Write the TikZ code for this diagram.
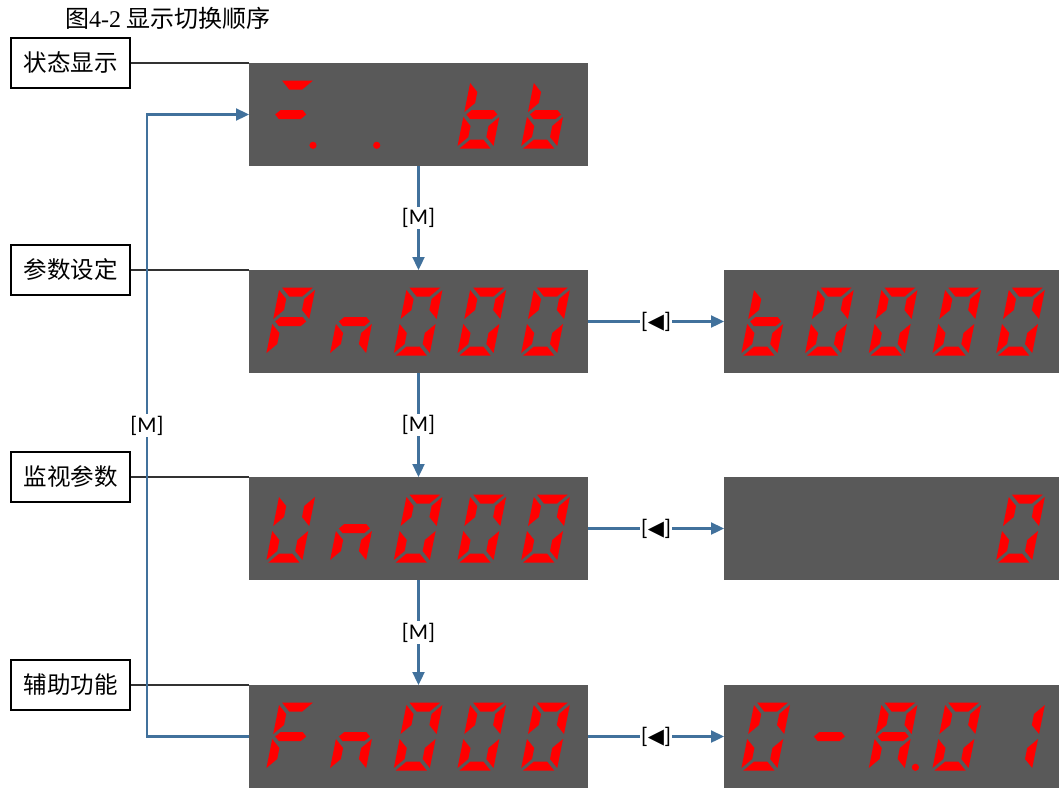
\documentclass[tikz,border=0pt]{standalone}
\usepackage{fontspec}
\setmainfont{Carlito}
\newfontfamily\cjk{Noto Sans CJK SC}
\newfontfamily\tms{Liberation Serif}
\newfontfamily\djv{DejaVu Sans}
\usetikzlibrary{arrows.meta}
\definecolor{segred}{RGB}{255,0,0}
\definecolor{panel}{RGB}{89,89,89}
\definecolor{flow}{RGB}{65,113,156}
\definecolor{guide}{RGB}{50,50,50}
% seven segment pieces, local coords (W=36,H=68,t=9,gap=2.5), y downward
\newcommand\sgA{\fill[segred] (2.5,0)--(33.5,0)--(24.5,9)--(11.5,9)--cycle;}
\newcommand\sgB{\fill[segred] (36,2.5)--(36,31.5)--(27,22.5)--(27,11.5)--cycle;}
\newcommand\sgC{\fill[segred] (36,36.5)--(36,65.5)--(27,56.5)--(27,45.5)--cycle;}
\newcommand\sgD{\fill[segred] (2.5,68)--(33.5,68)--(24.5,59)--(11.5,59)--cycle;}
\newcommand\sgE{\fill[segred] (0,36.5)--(9,45.5)--(9,56.5)--(0,65.5)--cycle;}
\newcommand\sgF{\fill[segred] (0,2.5)--(9,11.5)--(9,22.5)--(0,31.5)--cycle;}
\newcommand\sgG{\fill[segred] (2.5,34)--(7,29.5)--(29,29.5)--(33.5,34)--(29,38.5)--(7,38.5)--cycle;}
\newcommand\segdigit[4]{%
  \begin{scope}[shift={({#1+30.5+63.7*#3},{#2+17.5})},xslant=0.2]
    \foreach \s in {#4}{\csname sg\s\endcsname}
  \end{scope}}
\newcommand\segdot[3]{\fill[segred] ({#1+64+63.7*#3},{#2+82.3}) circle (3.6);}
\newcommand\lefttri{[{\djv\fontsize{21}{24}\selectfont ◀}]}
\begin{document}
\begin{tikzpicture}[x=1pt,y=-1pt,
  panelbox/.style={fill=panel,draw=none,inner sep=0pt,outer sep=0pt,minimum width=339pt,minimum height=103pt},
  sidebox/.style={fill=panel,draw=none,inner sep=0pt,outer sep=0pt,minimum width=335pt,minimum height=103pt},
  tagbox/.style={draw=black,line width=1.1pt,fill=white,inner sep=0pt,minimum width=119pt,minimum height=50pt,font=\cjk\fontsize{23.5}{27}\selectfont},
  guideline/.style={draw=guide,line width=1.1pt},
  conn/.style={draw=flow,line width=2.3pt,-{Triangle[length=13pt,width=12pt]}},
  lbl/.style={fill=white,inner sep=1.5pt,text=black,font=\fontsize{22.5}{26}\selectfont}]
\useasboundingbox (0,0) rectangle (1059,787);

\node[anchor=west,inner sep=0pt,font=\cjk\fontsize{24}{28}\selectfont] (title) at (65,18) {图{\tms 4-2} 显示切换顺序};

% display panels
\node[panelbox] (d1) at (418.5,114.5) {};
\node[panelbox] (d2) at (418.5,321.5) {};
\node[panelbox] (d3) at (418.5,528.5) {};
\node[panelbox] (d4) at (418.5,736.5) {};
\node[sidebox] (r2) at (891.5,321.5) {};
\node[sidebox] (r3) at (891.5,528.5) {};
\node[sidebox] (r4) at (891.5,736.5) {};

% side labels
\node[tagbox] (t1) at (70.5,63) {状态显示};
\node[tagbox] (t2) at (70.5,270) {参数设定};
\node[tagbox] (t3) at (70.5,477) {监视参数};
\node[tagbox] (t4) at (70.5,685) {辅助功能};

\draw[guideline] (t1.east) -- (d1.north west);
\draw[guideline] (t2.east) -- (d2.north west);
\draw[guideline] (t3.east) -- (d3.north west);
\draw[guideline] (t4.east) -- (d4.north west);

% digits panel 1
\segdigit{249}{63}{0}{A,G}\segdot{249}{63}{0}
\segdot{249}{63}{1}
\segdigit{249}{63}{3}{F,G,E,D,C}
\segdigit{249}{63}{4}{F,G,E,D,C}
% panel 2: Pn000
\segdigit{249}{270}{0}{A,B,F,G,E}
\segdigit{249}{270}{1}{C,E,G}
\foreach \i in {2,3,4}{\segdigit{249}{270}{\i}{A,B,C,D,E,F}}
% panel r2: b0000
\segdigit{724}{270}{0}{F,G,E,D,C}
\foreach \i in {1,2,3,4}{\segdigit{724}{270}{\i}{A,B,C,D,E,F}}
% panel 3: Un000
\segdigit{249}{477}{0}{B,C,D,E,F}
\segdigit{249}{477}{1}{C,E,G}
\foreach \i in {2,3,4}{\segdigit{249}{477}{\i}{A,B,C,D,E,F}}
% panel r3: 0
\segdigit{724}{477}{4}{A,B,C,D,E,F}
% panel 4: Fn000
\segdigit{249}{685}{0}{A,F,G,E}
\segdigit{249}{685}{1}{C,E,G}
\foreach \i in {2,3,4}{\segdigit{249}{685}{\i}{A,B,C,D,E,F}}
% panel r4: 0-A.01
\segdigit{724}{685}{0}{A,B,C,D,E,F}
\segdigit{724}{685}{1}{G}
\segdigit{724}{685}{2}{A,B,C,E,F,G}\segdot{724}{685}{2}
\segdigit{724}{685}{3}{A,B,C,D,E,F}
\segdigit{724}{685}{4}{B,C}

% connectors
\draw[conn] (d1.south) -- node[lbl] {[M]} (d2.north);
\draw[conn] (d2.south) -- node[lbl] {[M]} (d3.north);
\draw[conn] (d3.south) -- node[lbl] {[M]} (d4.north);
\draw[conn] (d2.east) -- node[lbl] {\lefttri} (r2.west);
\draw[conn] (d3.east) -- node[lbl] {\lefttri} (r3.west);
\draw[conn] (d4.east) -- node[lbl] {\lefttri} (r4.west);
\coordinate (lp) at (147,736.5);
\draw[conn] (d4.west) -- (lp) |- node[lbl,pos=0.25] {[M]} (d1.west);
\end{tikzpicture}
\end{document}
